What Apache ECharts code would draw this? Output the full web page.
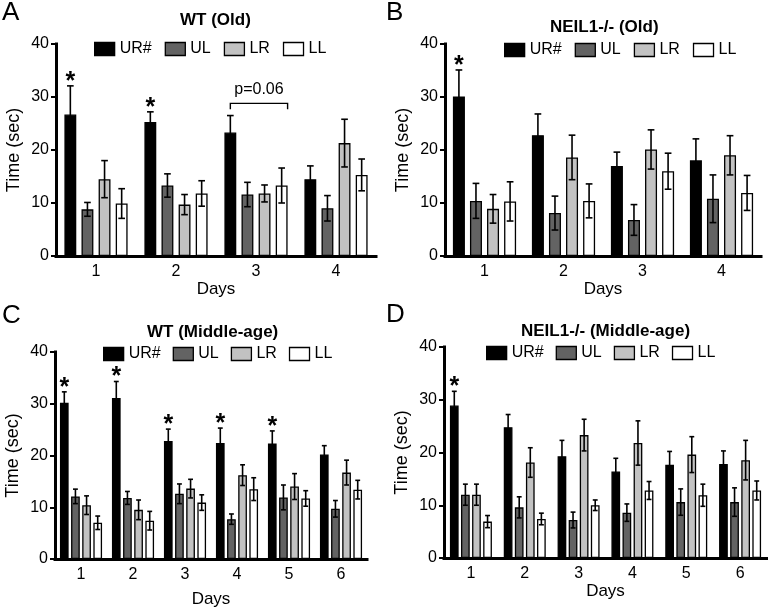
<!DOCTYPE html>
<html><head><meta charset="utf-8">
<script src="https://cdn.jsdelivr.net/npm/echarts@6/dist/echarts.min.js"></script>
<style>html,body{margin:0;padding:0;background:#fff}#c{width:768px;height:612px}</style>
</head><body><div id="c"></div>
<script>
// ---------- data ----------
const NAMES = ['UR#', 'UL', 'LR', 'LL'];
const days4 = ['1', '2', '3', '4'];
const days6 = ['1', '2', '3', '4', '5', '6'];
const yTicks = [0, 10, 20, 30, 40];

// A: WT (Old)
const A_UR = [26.7, 25.3, 23.3, 14.5], A_UR_sem = [5.4, 1.9, 3.2, 2.5];
const A_UL = [8.8, 13.3, 11.6, 9.0],   A_UL_sem = [1.3, 2.2, 2.3, 2.4];
const A_LR = [14.5, 9.7, 11.8, 21.3],  A_LR_sem = [3.5, 1.9, 1.6, 4.5];
const A_LL = [9.9, 11.8, 13.3, 15.3],  A_LL_sem = [2.8, 2.4, 3.3, 3.0];
const A_star = [1, 1, 0, 0];
const A_bracket = [{ day: 2, value: 28.8, text: 'p=0.06' }];

// B: NEIL1-/- (Old)
const B_UR = [30.1, 22.8, 17.0, 18.05], B_UR_sem = [5.0, 4.0, 2.6, 4.05];
const B_UL = [10.4, 8.1, 6.8, 10.8],    B_UL_sem = [3.3, 3.2, 2.9, 4.5];
const B_LR = [8.9, 18.6, 20.1, 19.0],   B_LR_sem = [2.7, 4.2, 3.7, 3.7];
const B_LL = [10.3, 10.4, 16.0, 11.9],  B_LL_sem = [3.7, 3.2, 3.4, 3.3];
const B_star = [1, 0, 0, 0];

// C: WT (Middle-age)
const C_UR = [30.2, 31.1, 22.8, 22.4, 22.3, 20.2], C_UR_sem = [2.1, 3.2, 2.3, 2.9, 2.45, 1.7];
const C_UL = [12.1, 11.8, 12.6, 7.7, 11.9, 9.7],   C_UL_sem = [1.4, 1.25, 1.9, 1.0, 2.4, 1.6];
const C_LR = [10.4, 9.5, 13.6, 16.2, 14.0, 16.7],  C_LR_sem = [1.8, 1.9, 1.8, 2.0, 2.5, 2.4];
const C_LL = [7.0, 7.4, 10.9, 13.5, 11.7, 13.4],   C_LL_sem = [1.3, 1.8, 1.5, 2.2, 1.5, 1.8];
const C_star = [1, 1, 1, 1, 1, 0];

// D: NEIL1-/- (Middle-age)
const D_UR = [28.9, 24.8, 19.3, 16.4, 17.7, 17.8], D_UR_sem = [2.7, 2.4, 3.0, 2.5, 2.5, 2.5];
const D_UL = [12.0, 9.6, 7.2, 8.6, 10.6, 10.6],    D_UL_sem = [2.0, 2.0, 1.5, 1.65, 2.5, 2.7];
const D_LR = [12.0, 18.1, 23.3, 21.8, 19.6, 18.55], D_LR_sem = [2.0, 2.8, 3.0, 4.2, 3.4, 3.75];
const D_LL = [6.9, 7.4, 10.0, 12.8, 11.9, 12.8],   D_LL_sem = [1.15, 1.1, 1.0, 1.7, 2.1, 1.8];
const D_star = [1, 0, 0, 0, 0, 0];

// ---------- layout / style ----------
const FONT = '"Liberation Sans", Arial, Helvetica, sans-serif';
const COLORS = ['#000000', '#636363', '#c2c2c2', '#ffffff'];

const panels = [
  { letter: 'A', title: 'WT (Old)', cats: days4,
    vals: [A_UR, A_UL, A_LR, A_LL], sems: [A_UR_sem, A_UL_sem, A_LR_sem, A_LL_sem], stars: A_star, brackets: A_bracket,
    grid: { left: 56, top: 44, width: 320, height: 212 }, cg: 0.21, bg: 0.44,
    letterPos: [2, 0], titleLeft: 180, titleTop: 12, legendLeft: 94, legendTop: 41, legendGap: 13, xNameGap: 24 },
  { letter: 'B', title: 'NEIL1-/- (Old)', cats: days4,
    vals: [B_UR, B_UL, B_LR, B_LL], sems: [B_UR_sem, B_UL_sem, B_LR_sem, B_LL_sem], stars: B_star, brackets: [],
    grid: { left: 445, top: 44, width: 316, height: 212 }, cg: 0.20, bg: 0.42,
    letterPos: [386, 0], titleLeft: 550, titleTop: 19, legendLeft: 504, legendTop: 42, legendGap: 13, xNameGap: 24 },
  { letter: 'C', title: 'WT (Middle-age)', cats: days6,
    vals: [C_UR, C_UL, C_LR, C_LL], sems: [C_UR_sem, C_UL_sem, C_LR_sem, C_LL_sem], stars: C_star, brackets: [],
    grid: { left: 55, top: 352, width: 312, height: 207 }, cg: 0.19, bg: 0.28,
    letterPos: [2, 303], titleLeft: 147, titleTop: 324, legendLeft: 103, legendTop: 346, legendGap: 12, xNameGap: 32 },
  { letter: 'D', title: 'NEIL1-/- (Middle-age)', cats: days6,
    vals: [D_UR, D_UL, D_LR, D_LL], sems: [D_UR_sem, D_UL_sem, D_LR_sem, D_LL_sem], stars: D_star, brackets: [],
    grid: { left: 444, top: 347, width: 323, height: 211 }, cg: 0.22, bg: 0.27,
    letterPos: [386, 302], titleLeft: 521, titleTop: 323, legendLeft: 486, legendTop: 345, legendGap: 12, xNameGap: 23 }
];

function barGeom(api, p, cat, s) {
  const n = 4;
  const band = api.size([1, 0])[0];
  const w = band * (1 - p.cg) / (n + (n - 1) * p.bg);
  const total = n * w + (n - 1) * p.bg * w;
  const cx = api.coord([cat, 0])[0];
  return { x: cx - total / 2 + w / 2 + s * w * (1 + p.bg), w: w };
}

const option = {
  animation: false,
  backgroundColor: '#fff',
  textStyle: { fontFamily: FONT, color: '#000' },
  title: [], legend: [], grid: [], xAxis: [], yAxis: [], series: []
};

panels.forEach((p, i) => {
  option.title.push({ text: p.letter, left: p.letterPos[0], top: p.letterPos[1], padding: 0,
    textStyle: { fontFamily: FONT, fontSize: 26, fontWeight: 'normal', color: '#000' } });
  option.title.push({ text: p.title, left: p.titleLeft, top: p.titleTop, padding: 0,
    textStyle: { fontFamily: FONT, fontSize: 17, fontWeight: 'bold', color: '#000' } });
  option.legend.push({
    left: p.legendLeft, top: p.legendTop, padding: 0, itemGap: p.legendGap,
    itemWidth: 20, itemHeight: 13, icon: 'rect', selectedMode: false,
    textStyle: { fontFamily: FONT, fontSize: 16, color: '#000', padding: [0, 0, 0, 0] },
    data: NAMES.map((nm, s) => ({ name: nm, itemStyle: { color: COLORS[s], borderColor: '#000', borderWidth: 1.3 } }))
  });
  option.grid.push(Object.assign({ containLabel: false }, p.grid));
  option.xAxis.push({
    gridIndex: i, type: 'category', data: p.cats,
    name: 'Days', nameLocation: 'middle', nameGap: p.xNameGap,
    nameTextStyle: { fontFamily: FONT, fontSize: 17, color: '#000' },
    axisLine: { lineStyle: { color: '#000', width: 3, cap: 'square' } },
    axisTick: { alignWithLabel: true, length: 5, lineStyle: { color: '#000', width: 2 } },
    axisLabel: { fontFamily: FONT, fontSize: 16, color: '#000', margin: 8 },
    splitLine: { show: false }
  });
  option.yAxis.push({
    gridIndex: i, type: 'value', min: yTicks[0], max: yTicks[yTicks.length - 1], interval: yTicks[1] - yTicks[0],
    name: 'Time (sec)', nameLocation: 'middle', nameGap: 33,
    nameTextStyle: { fontFamily: FONT, fontSize: 18, color: '#000' },
    axisLine: { show: true, lineStyle: { color: '#000', width: 3, cap: 'square' } },
    axisTick: { show: true, length: 5, lineStyle: { color: '#000', width: 2 } },
    axisLabel: { fontFamily: FONT, fontSize: 16, color: '#000', margin: 7 },
    splitLine: { show: false }
  });
  p.vals.forEach((arr, s) => {
    option.series.push({
      type: 'bar', name: NAMES[s], xAxisIndex: i, yAxisIndex: i, data: arr,
      barGap: (p.bg * 100) + '%', barCategoryGap: (p.cg * 100) + '%',
      itemStyle: { color: COLORS[s], borderColor: '#000', borderWidth: 1.3 },
      silent: true
    });
  });
  // error bars + asterisks
  const items = [];
  p.vals.forEach((arr, s) => arr.forEach((v, c) => items.push([c, s, v, p.sems[s][c], s === 0 ? p.stars[c] : 0])));
  option.series.push({
    type: 'custom', xAxisIndex: i, yAxisIndex: i, data: items, z: 10, silent: true,
    encode: { x: 0, y: 2 },
    renderItem: function (params, api) {
      const c = api.value(0), s = api.value(1), m = api.value(2), e = api.value(3), st = api.value(4);
      const g = barGeom(api, p, c, s);
      const yt = api.coord([c, m + e])[1], yb = api.coord([c, m - e])[1];
      const h = g.w * 0.28;
      const ls = { stroke: '#000', lineWidth: 1.6 };
      const children = [
        { type: 'line', shape: { x1: g.x, y1: yt, x2: g.x, y2: yb }, style: ls },
        { type: 'line', shape: { x1: g.x - h, y1: yt, x2: g.x + h, y2: yt }, style: ls },
        { type: 'line', shape: { x1: g.x - h, y1: yb, x2: g.x + h, y2: yb }, style: ls }
      ];
      if (st) {
        children.push({ type: 'text', x: g.x, y: yt - 4, style: { text: '*', fontFamily: FONT, fontSize: 25, fontWeight: 'bold',
          fill: '#000', align: 'center', verticalAlign: 'middle' } });
      }
      return { type: 'group', children: children };
    }
  });
  if (p.brackets.length) {
    option.series.push({
      type: 'custom', xAxisIndex: i, yAxisIndex: i, z: 10, silent: true,
      data: p.brackets.map(b => [b.day, b.value]),
      encode: { x: 0, y: 1 },
      renderItem: function (params, api) {
        const b = p.brackets[params.dataIndex];
        const c = api.value(0), v = api.value(1);
        const g0 = barGeom(api, p, c, 0), g3 = barGeom(api, p, c, 3);
        const x1 = g0.x, x2 = g3.x + g3.w / 2;
        const y = api.coord([c, v])[1], yd = api.coord([c, v - 1.1])[1];
        return { type: 'group', children: [
          { type: 'polyline', shape: { points: [[x1, yd], [x1, y], [x2, y], [x2, yd]] }, style: { stroke: '#000', lineWidth: 1.4, fill: null } },
          { type: 'text', x: (x1 + x2) / 2, y: y - 6, style: { text: b.text, fontFamily: FONT, fontSize: 16, fill: '#000', align: 'center', verticalAlign: 'bottom' } }
        ] };
      }
    });
  }
});

const chart = echarts.init(document.getElementById('c'), null, { renderer: 'canvas' });
chart.setOption(option);
</script>
</body></html>
